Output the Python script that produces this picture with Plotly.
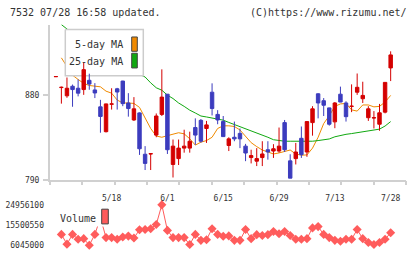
import plotly.graph_objects as go

# ---------------- data ----------------
tick_idx = [10, 20, 30, 40, 50, 60]
tick_labels = ["5/18", "6/1", "6/15", "6/29", "7/13", "7/28"]

opens = [899.8, 888.3, 879.6, 889.7, 887.6, 886.2, 896.0, 885.8, 867.9, 841.6,
         870.7, 887.0, 895.2, 872.0, 854.0, 861.5, 817.7, 818.0, 838.0, 859.9,
         881.3, 806.9, 813.1, 824.2, 824.2, 846.0, 853.6, 845.0, 883.4, 859.9,
         852.3, 827.0, 835.7, 839.8, 826.3, 814.2, 810.4, 814.2, 822.5, 821.1,
         821.1, 851.2, 810.7, 813.1, 834.6, 820.1, 851.2, 881.7, 874.4, 866.8,
         852.0, 881.3, 872.0, 868.3, 883.4, 876.5, 856.4, 856.1, 849.5, 862.3,
         909.1]
highs = [900.0, 889.3, 899.0, 891.5, 897.0, 915.0, 903.0, 893.0, 875.3, 871.3,
         887.6, 888.0, 895.5, 882.4, 878.2, 862.0, 826.3, 818.5, 860.9, 907.6,
         881.5, 833.3, 833.3, 843.7, 841.6, 855.7, 855.0, 853.0, 892.8, 864.4,
         858.2, 835.7, 852.3, 845.0, 828.7, 822.5, 824.2, 831.5, 831.5, 828.4,
         846.0, 854.0, 817.7, 829.7, 847.1, 852.5, 868.6, 882.4, 877.2, 867.0,
         873.0, 889.3, 873.8, 891.7, 903.2, 894.5, 868.6, 863.4, 871.0, 894.0,
         926.7]
lows = [899.8, 871.3, 877.5, 868.0, 879.0, 880.6, 886.0, 877.2, 840.5, 840.8,
        865.0, 865.0, 868.6, 857.5, 853.0, 817.0, 801.0, 801.0, 835.7, 858.2,
        818.0, 793.1, 806.3, 819.4, 819.4, 827.7, 830.0, 829.7, 858.8, 849.5,
        836.0, 821.1, 831.5, 824.2, 810.4, 808.0, 805.2, 805.2, 812.0, 813.8,
        819.4, 820.1, 792.4, 806.9, 813.8, 815.0, 837.4, 855.7, 858.2, 848.0,
        845.3, 872.8, 852.3, 862.3, 880.6, 872.0, 853.0, 845.0, 842.6, 861.0,
        895.2]
closes = [900.0, 888.6, 887.6, 886.2, 882.4, 907.3, 892.0, 882.6, 857.7, 871.0,
          871.0, 883.6, 871.3, 866.1, 865.8, 823.5, 808.0, 818.3, 858.2, 878.2,
          822.5, 826.3, 824.2, 826.3, 831.5, 838.0, 831.5, 848.8, 866.1, 854.0,
          836.4, 834.0, 834.0, 834.0, 819.0, 816.3, 813.1, 818.0, 820.1, 823.5,
          826.3, 822.5, 792.4, 820.1, 817.3, 852.3, 865.8, 872.0, 869.6, 849.5,
          872.0, 873.0, 857.5, 868.6, 888.6, 880.0, 865.8, 856.4, 861.6, 893.8,
          922.9]

ma5 = [None, 919.8, 911.0, 901.4, 896.9, 892.8, 890.5, 889.7, 889.1, 884.5,
       882.4, 875.1, 872.0, 872.0, 871.5, 867.3, 855.9, 845.0, 837.0, 835.7,
       837.4, 839.1, 840.5, 839.3, 834.1, 827.4, 830.5, 832.2, 835.7, 845.0,
       847.8, 847.8, 847.1, 843.4, 836.7, 830.0, 825.8, 822.2, 820.1, 818.0,
       819.1, 820.6, 822.2, 818.0, 816.7, 817.0, 824.2, 835.7, 850.2, 858.5,
       868.4, 871.0, 871.5, 864.7, 863.4, 869.9, 869.9, 867.9, 868.4, 873.0,
       880.0]
ma25 = [None, 955.0, 950.0, 945.7, 941.6, 937.4, 933.3, 929.1, 925.5, 921.8,
        918.2, 914.6, 910.9, 907.8, 905.2, 902.6, 899.5, 893.3, 888.1, 885.5,
        880.3, 876.7, 872.0, 868.4, 864.4, 861.4, 858.2, 857.2, 855.9, 854.9,
        853.8, 851.4, 849.2, 846.6, 844.7, 842.9, 840.3, 837.9, 835.7, 833.1,
        832.0, 831.5, 831.5, 831.5, 831.5, 831.0, 831.5, 832.2, 833.1, 833.9,
        836.2, 837.9, 838.8, 839.6, 840.5, 841.4, 842.4, 843.1, 844.3, 847.6,
        852.3]
volume = [None, 11.0e6, 6.4e6, 11.0e6, 8.7e6, 9.0e6, 5.9e6, 11.0e6, 18.9e6, 9.5e6,
          9.5e6, 8.7e6, 9.8e6, 10.2e6, 9.3e6, 13.2e6, 13.3e6, 13.7e6, 15.7e6, 25.0e6,
          12.9e6, 9.5e6, 9.5e6, 9.5e6, 6.2e6, 11.0e6, 8.2e6, 8.5e6, 13.7e6, 11.0e6,
          10.1e6, 10.3e6, 8.2e6, 8.2e6, 13.3e6, 9.0e6, 10.9e6, 10.5e6, 10.9e6, 12.4e6,
          11.3e6, 12.4e6, 10.5e6, 8.7e6, 8.7e6, 9.0e6, 14.1e6, 14.7e6, 11.0e6, 9.5e6,
          8.2e6, 7.8e6, 8.7e6, 8.7e6, 13.3e6, 9.0e6, 7.2e6, 6.2e6, 7.2e6, 8.7e6,
          11.8e6]
vol_ticks = [6045000, 15500550, 24956100]
price_ticks = [790, 880]

# ---------------- layout helpers ----------------
W, H = 420, 259
X0, X1 = 50, 406          # plot area pixels
YT, YB = 25, 184          # price panel pixels
VT, VB = 200, 259         # volume panel pixels
I0_PX, STEP = 55.8, 5.581  # candle pitch
PY880, PPU = 97.3, 0.963
VY0, VPPU = 249.7, 20.35 / 9455550

def xi(px):
    return (px - I0_PX) / STEP

def py(px):
    return 880 - (px - PY880) / PPU

def vy(px):
    return 6045000 + (VY0 - px) / VPPU

idx = list(range(len(closes)))
xr = [xi(X0), xi(X1)]
yr = [py(YB), py(YT)]
vr = [vy(VB), vy(VT)]

FONT = "DejaVu Sans Mono"
TXT = "#333333"
AX = "#d0d0d0"
RED = "#d40000"
BLUE = "#3c3cbe"
ORANGE = "#f08a00"
GREEN = "#10a810"
VOLC = "#ff5c5c"

fig = go.Figure()

fig.add_trace(go.Scatter(x=idx, y=ma5, mode="lines", line=dict(color=ORANGE, width=1),
                         xaxis="x", yaxis="y", hoverinfo="skip"))
fig.add_trace(go.Scatter(x=idx, y=ma25, mode="lines", line=dict(color=GREEN, width=1),
                         xaxis="x", yaxis="y", hoverinfo="skip"))
# legend box (white) drawn above MA lines, below candles
bx0, bx1, by0, by1 = xi(65.3), xi(143.3), py(30), py(77.3)
fig.add_trace(go.Scatter(x=[bx0, bx1, bx1, bx0, bx0], y=[by0, by0, by1, by1, by0],
                         mode="lines", fill="toself", fillcolor="white",
                         line=dict(color="#cccccc", width=1.5),
                         xaxis="x", yaxis="y", hoverinfo="skip"))
# tick-mark axis helper trace
fig.add_trace(go.Scatter(x=[0], y=[None], mode="markers", xaxis="x2", yaxis="y",
                         hoverinfo="skip"))

fig.add_trace(go.Candlestick(
    x=idx, open=opens, high=highs, low=lows, close=closes,
    xaxis="x3", yaxis="y",
    increasing=dict(line=dict(color=RED, width=1), fillcolor=RED),
    decreasing=dict(line=dict(color=BLUE, width=1), fillcolor=BLUE),
    whiskerwidth=0, hoverinfo="skip"))

fig.add_trace(go.Scatter(x=idx, y=volume, mode="lines+markers",
                         line=dict(color=VOLC, width=1),
                         marker=dict(symbol="diamond", size=7, color=VOLC),
                         xaxis="x4", yaxis="y4", hoverinfo="skip"))

dom_x = [X0 / W, X1 / W]
fig.update_layout(
    width=W, height=H, margin=dict(l=0, r=0, t=0, b=0),
    paper_bgcolor="white", plot_bgcolor="white", showlegend=False,
    boxgap=0.12,
    font=dict(family=FONT, color=TXT, size=8),
    xaxis=dict(domain=dom_x, range=xr, anchor="y", showgrid=False, zeroline=False,
               showline=True, linecolor=AX, linewidth=2, ticks="",
               tickmode="array", tickvals=tick_idx, ticktext=tick_labels,
               tickfont=dict(size=8, family=FONT, color=TXT),
               ticklabelstandoff=9, rangeslider=dict(visible=False)),
    xaxis2=dict(overlaying="x", anchor="y", range=[0, 11], tickmode="linear", tick0=0,
                dtick=1, ticks="outside", ticklen=4, tickcolor=AX, tickwidth=2,
                showticklabels=False, showgrid=False, zeroline=False, showline=False),
    xaxis3=dict(overlaying="x", anchor="y", range=xr, showticklabels=False,
                showgrid=False, zeroline=False, showline=False, ticks="",
                rangeslider=dict(visible=False)),
    yaxis=dict(domain=[1 - YB / H, 1 - YT / H], range=yr, anchor="x", showgrid=False,
               zeroline=False, showline=True, linecolor=AX, linewidth=2,
               ticks="outside", ticklen=5, tickcolor=AX, tickwidth=2,
               tickmode="array", tickvals=price_ticks,
               ticktext=[str(v) for v in price_ticks],
               tickfont=dict(size=8, family=FONT, color=TXT), ticklabelstandoff=2),
    xaxis4=dict(domain=dom_x, range=xr, anchor="y4", showgrid=False, zeroline=False,
                showline=False, ticks="", showticklabels=False),
    yaxis4=dict(domain=[0, 1 - VT / H], range=vr, anchor="x4", showgrid=False,
                zeroline=False, showline=False, ticks="",
                tickmode="array", tickvals=vol_ticks,
                ticktext=[str(v) for v in vol_ticks],
                tickfont=dict(size=8, family=FONT, color=TXT), ticklabelstandoff=5),
)

def ann(text, x, y, xanchor, size):
    fig.add_annotation(text=text, x=x / W, y=1 - y / H, xref="paper", yref="paper",
                       xanchor=xanchor, yanchor="middle", showarrow=False,
                       font=dict(family=FONT, size=size, color=TXT))

ann("7532 07/28 16:58 updated.", 8, 13, "left", 10)
ann("(C)https://www.rizumu.net/", 409, 13, "right", 10)
ann("5-day MA", 125, 45.5, "right", 10)
ann("25-day MA", 125, 63, "right", 10)
ann("Volume", 58, 222.3, "left", 10)

def rect(x0, y0, x1, y1, color, border):
    fig.add_shape(type="rect", xref="paper", yref="paper",
                  x0=x0 / W, x1=x1 / W, y0=1 - y1 / H, y1=1 - y0 / H,
                  fillcolor=color, line=dict(color=border, width=1 if border else 0),
                  layer="above")

# white backing behind the volume legend
rect(56, 211, 110, 231, "white", None)
rect(131.7, 37.7, 137.3, 52.3, ORANGE, "#444444")
rect(131.7, 54.3, 137.3, 69.3, GREEN, "#444444")
rect(101.7, 213.3, 108.3, 228.3, VOLC, "#444444")

fig.write_html("out.html")
